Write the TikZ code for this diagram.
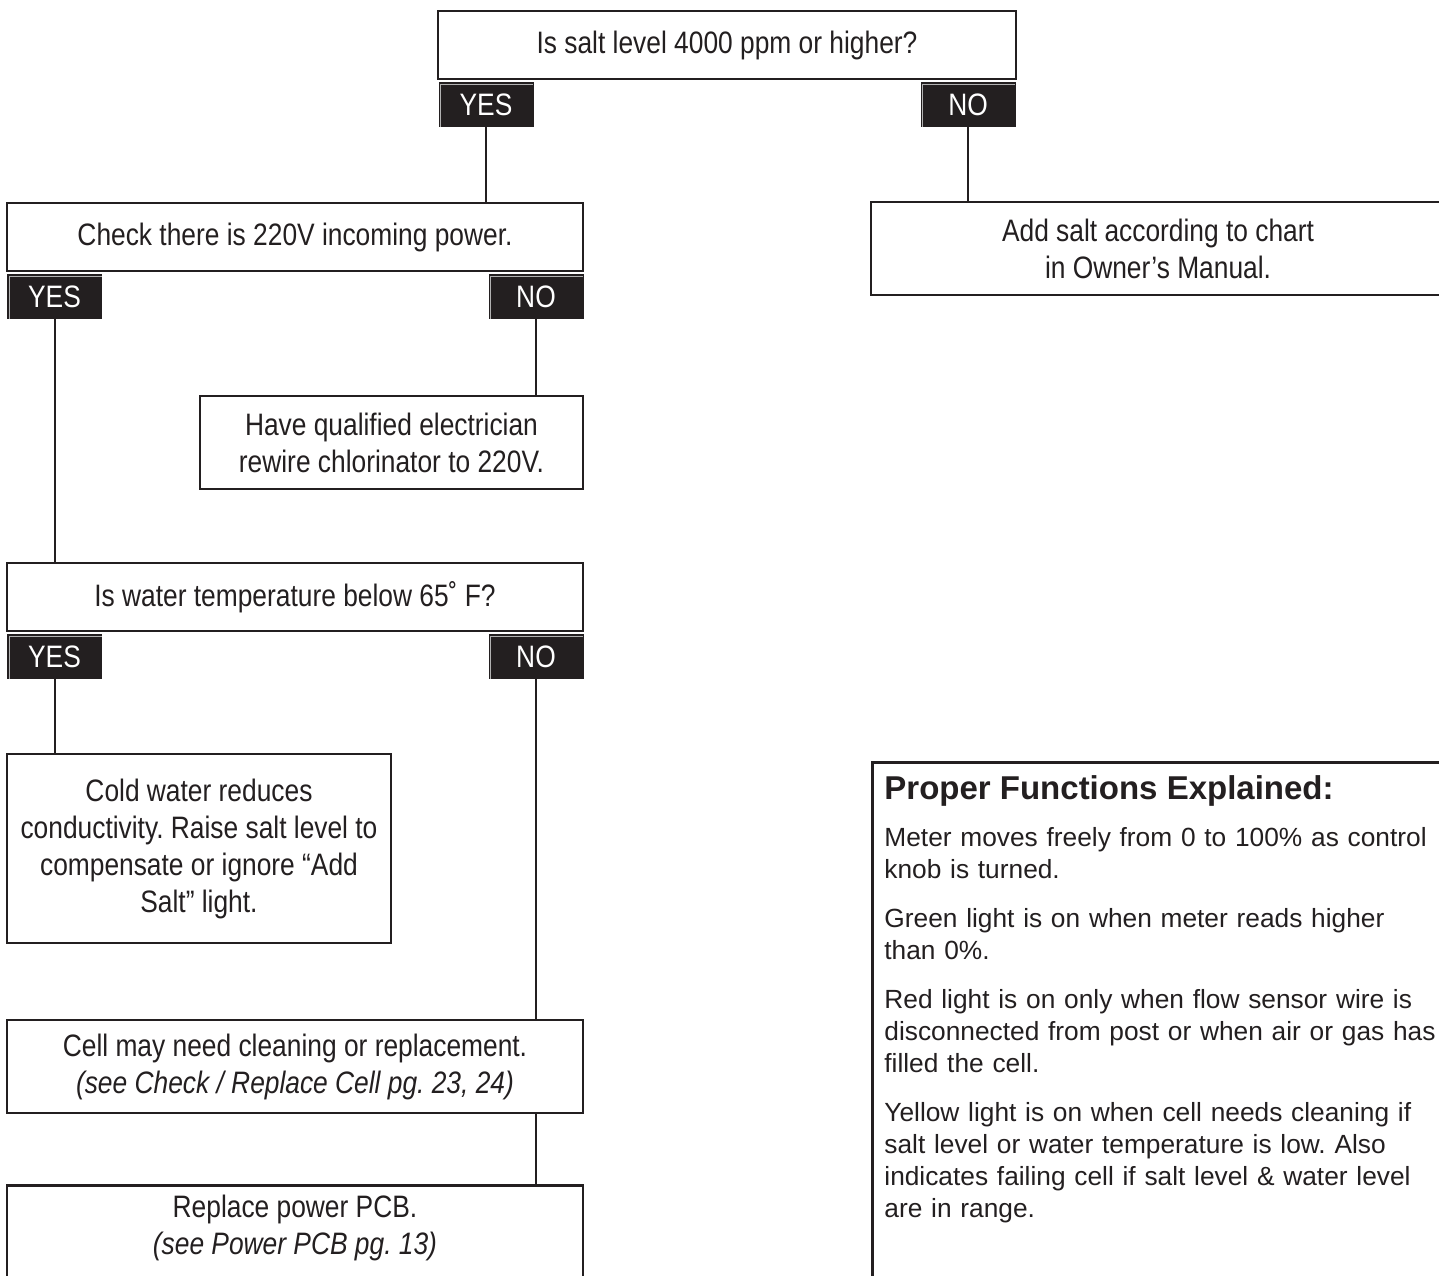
\documentclass[tikz,border=0pt]{standalone}
\usepackage{fontspec}
\setmainfont{Liberation Sans}
\newfontfamily\condf[FakeStretch=0.85]{Liberation Sans}
\definecolor{ink}{HTML}{231F20}
\newcommand\flowfont{\condf\fontsize{15.5}{18.5}\selectfont}
\begin{document}
\frenchspacing
\begin{tikzpicture}[x=0.5pt,y=-0.5pt,
  box/.style={draw=ink, line width=1.3pt, fill=white, inner sep=0pt, text=ink, font=\flowfont, align=center},
  tab/.style={fill=ink, draw=none, text=white, font=\flowfont, inner sep=0pt, minimum width=47.5pt, minimum height=22.5pt},
  conn/.style={draw=ink, line width=1pt},
  hl/.style={draw=gray!60, line width=0.4pt},
  txt/.style={inner sep=0pt, text=ink, font=\flowfont, align=center}]
\clip (0,0) rectangle (1439,1275);
\fill[white] (0,0) rectangle (1439,1275);

% --- level 1
\node[box, minimum width=289pt, minimum height=34pt] (q1) at (727,45) {Is salt level 4000 ppm or higher?};
\node[tab] (q1yes) at (486,104.5) {YES};
\node[tab] (q1no) at (968,104.5) {NO};

% --- level 2
\node[box, minimum width=288pt, minimum height=34pt] (q2) at (295,237) {Check there is 220V incoming power.};
\node[tab] (q2yes) at (54.5,296.5) {YES};
\node[tab] (q2no) at (536,296.5) {NO};
\node[box, minimum width=287pt, minimum height=46.5pt] (salt) at (1158,248.5) {Add salt according to chart\\in Owner’s Manual.};

\node[box, minimum width=191.5pt, minimum height=46.5pt] (elec) at (391.5,442.5) {Have qualified electrician\\rewire chlorinator to 220V.};

% --- level 3
\node[box, minimum width=288pt, minimum height=34pt] (q3) at (295,597) {Is water temperature below 65˚ F?};
\node[tab] (q3yes) at (54.5,656.5) {YES};
\node[tab] (q3no) at (536,656.5) {NO};

\node[box, minimum width=192pt, minimum height=94.5pt] (cold) at (199,848.5) {Cold water reduces\\conductivity. Raise salt level to\\compensate or ignore “Add\\Salt” light.};

\node[box, minimum width=288pt, minimum height=46.5pt] (cell) at (295,1066.5) {Cell may need cleaning or replacement.\\\textit{(see Check / Replace Cell pg. 23, 24)}};

\node[box, minimum width=288pt, minimum height=70pt, anchor=north] (rep) at (295,1184) {};
\node[txt] (reptxt) at (295,1228) {Replace power PCB.\\\textit{(see Power PCB pg. 13)}};

% --- info panel
\node[box, minimum width=290pt, minimum height=265pt, anchor=north west] (panel) at (871,761) {};
\node[inner sep=0pt, text=ink, anchor=base west, font=\bfseries\fontsize{16.5}{19}\selectfont] (phead) at (884,799) {Proper Functions Explained:};
\node[inner sep=0pt, text=ink, anchor=north west, text width=285pt, align=left,
      font=\fontsize{13.15}{16}\selectfont] (pbody) at (884,827)
{Meter moves freely from 0 to 100\% as control\\knob is turned.\\[8.5pt]
Green light is on when meter reads higher\\than 0\%.\\[8.5pt]
Red light is on only when flow sensor wire is\\disconnected from post or when air or gas has\\filled the cell.\\[8.5pt]
Yellow light is on when cell needs cleaning if\\salt level or water temperature is low. Also\\indicates failing cell if salt level \& water level\\are in range.};

% --- tab highlights
\foreach \n in {q1yes,q1no,q2yes,q2no,q3yes,q3no}
  \draw[hl] ([xshift=1.3pt,yshift=0.3pt]\n.south west) |- ([xshift=-0.3pt,yshift=-1.3pt]\n.north east);

% --- connectors
\draw[conn] (q1yes.south) -- (q1yes.south |- q2.north);
\draw[conn] (q1no.south) -- (q1no.south |- salt.north);
\draw[conn] (q2no.south) -- (q2no.south |- elec.north);
\draw[conn] (q2yes.south) -- (q2yes.south |- q3.north);
\draw[conn] (q3yes.south) -- (q3yes.south |- cold.north);
\draw[conn] (q3no.south) -- (q3no.south |- cell.north);
\draw[conn] (cell.south -| q3no.south) -- (q3no.south |- rep.north);
\end{tikzpicture}
\end{document}
